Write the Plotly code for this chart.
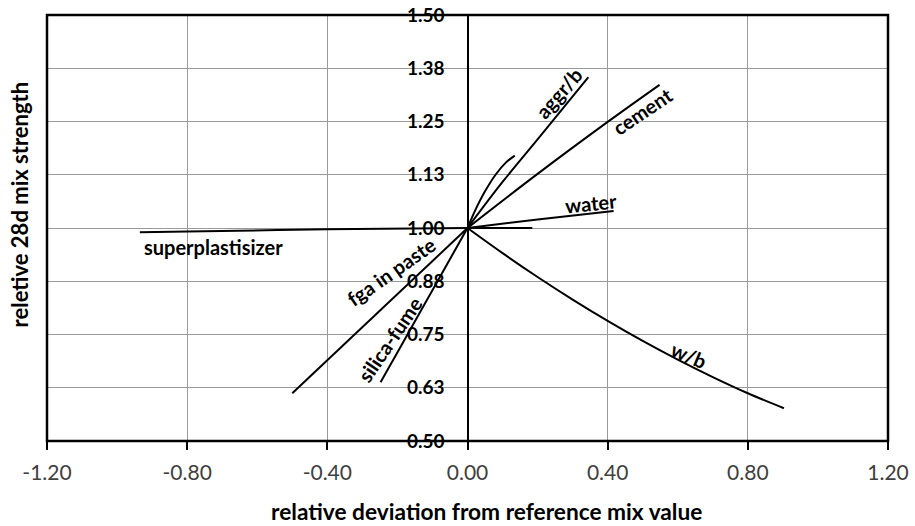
import plotly.graph_objects as go

# ---- data ----
aggr_x = [0.0, 0.10, 0.20, 0.345]
aggr_y = [1.0, 1.108, 1.208, 1.354]

cement_x = [0.0, 0.20, 0.40, 0.548]
cement_y = [1.0, 1.127, 1.249, 1.336]

short_x = [0.0, 0.02, 0.05, 0.08, 0.11, 0.135]
short_y = [1.0, 1.038, 1.086, 1.125, 1.154, 1.170]

water_x = [0.0, 0.20, 0.417]
water_y = [1.0, 1.020, 1.040]

flat_x = [0.0, 0.185]
flat_y = [1.0, 1.0]

sp_x = [-0.935, -0.80, -0.40, 0.0]
sp_y = [0.990, 0.9915, 0.997, 1.0]

wb_x = [0.0, 0.10, 0.20, 0.30, 0.40, 0.50, 0.60, 0.70, 0.80, 0.903]
wb_y = [1.0, 0.941, 0.885, 0.832, 0.782, 0.735, 0.691, 0.650, 0.612, 0.577]

fga_x = [0.0, -0.25, -0.500]
fga_y = [1.0, 0.806, 0.612]

sf_x = [0.0, -0.12, -0.248]
sf_y = [1.0, 0.826, 0.638]

x_ticks = [-1.2, -0.8, -0.4, 0.0, 0.4, 0.8, 1.2]
x_ticktext = ["-1.20", "-0.80", "-0.40", "0.00", "0.40", "0.80", "1.20"]
y_ticks = [0.5, 0.625, 0.75, 0.875, 1.0, 1.125, 1.25, 1.375, 1.5]
y_ticktext = ["0.50", "0.63", "0.75", "0.88", "1.00", "1.13", "1.25", "1.38", "1.50"]

labels = ["aggr/b", "cement", "water", "superplastisizer", "fga in paste", "silica-fume", "w/b"]
label_x = [0.259, 0.499, 0.351, -0.725, -0.216, -0.224, 0.632]
label_y = [1.318, 1.275, 1.059, 0.956, 0.898, 0.738, 0.702]
label_angle = [-49, -34, -6, 0, -35, -56, 23]

FONT = "Lato"

fig = go.Figure()
series = [
    (aggr_x, aggr_y, "spline"),
    (cement_x, cement_y, "spline"),
    (short_x, short_y, "spline"),
    (water_x, water_y, "spline"),
    (flat_x, flat_y, "linear"),
    (sp_x, sp_y, "spline"),
    (wb_x, wb_y, "spline"),
    (fga_x, fga_y, "linear"),
    (sf_x, sf_y, "linear"),
]
for xs, ys, shp in series:
    fig.add_trace(go.Scatter(x=xs, y=ys, mode="lines",
                             line=dict(color="black", width=2, shape=shp),
                             showlegend=False, hoverinfo="skip"))

for t, x, y, a in zip(labels, label_x, label_y, label_angle):
    fig.add_annotation(x=x, y=y, xref="x", yref="y", text="<b>%s</b>" % t,
                       showarrow=False, textangle=a,
                       xanchor="center", yanchor="middle",
                       font=dict(family=FONT, size=20, color="black"))

fig.add_annotation(x=0.523, y=-0.166, xref="paper", yref="paper",
                   text="<b>relative deviation from reference mix value</b>",
                   xanchor="center", yanchor="middle",
                   showarrow=False, font=dict(family=FONT, size=22.7, color="black"))
fig.add_annotation(x=-0.033, y=0.556, xref="paper", yref="paper",
                   text="<b>reletive 28d mix strength</b>", textangle=-90,
                   xanchor="center", yanchor="middle",
                   showarrow=False, font=dict(family=FONT, size=22, color="black"))

fig.add_shape(type="rect", xref="paper", yref="paper", x0=0, y0=0, x1=1, y1=1,
              line=dict(color="black", width=2.5), layer="above")

fig.update_layout(
    width=915, height=526,
    margin=dict(l=47, r=27, t=15, b=85),
    paper_bgcolor="white", plot_bgcolor="white",
    xaxis=dict(range=[-1.2, 1.2], tickvals=x_ticks, ticktext=x_ticktext,
               automargin=False, ticklabeloverflow="allow",
               showgrid=True, gridcolor="#9a9a9a", gridwidth=1.2,
               zeroline=True, zerolinecolor="black", zerolinewidth=2,
               showline=False, ticks="outside", ticklen=8, tickwidth=2,
               tickcolor="black", ticklabelstandoff=5,
               tickfont=dict(family=FONT, size=21, color="#404040")),
    yaxis=dict(range=[0.5, 1.5], tickvals=y_ticks, ticktext=y_ticktext,
               automargin=False, ticklabeloverflow="allow",
               showgrid=True, gridcolor="#9a9a9a", gridwidth=1.2,
               zeroline=False, showline=False, ticks="",
               anchor="free", position=0.5, ticklabelstandoff=23,
               tickfont=dict(family=FONT, size=19, color="black", weight="bold")),
)

# remove the browser's default 8px body margin so the figure fills the window
fig.write_html("out.html", config={"displayModeBar": False},
               post_script="document.body.style.margin='0';")
